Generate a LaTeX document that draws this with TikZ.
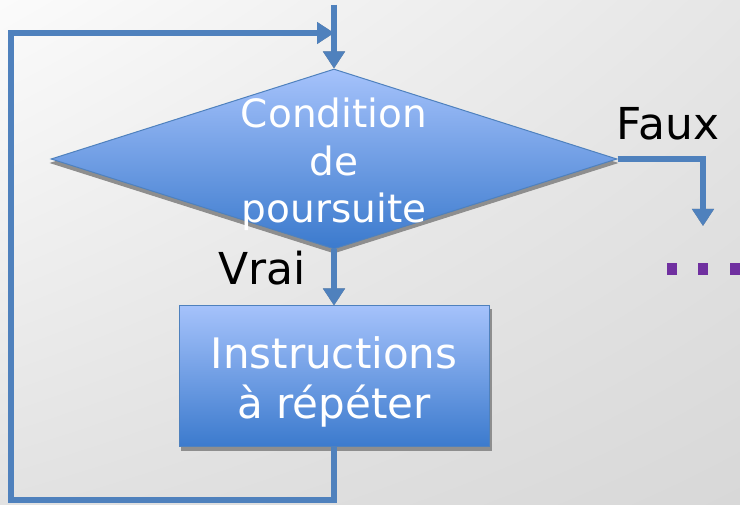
\documentclass[tikz,border=0pt]{standalone}
\usepackage{fontspec}
\setmainfont{DejaVu Sans}
\usetikzlibrary{arrows.meta,shapes.geometric,shadings}
\definecolor{lineblue}{HTML}{4F81BD}
\definecolor{topblue}{HTML}{A5C2FB}
\definecolor{botblue}{HTML}{3B7ACD}
\definecolor{shadowgray}{HTML}{8E8E8E}
\definecolor{dotpurple}{HTML}{7030A0}
\definecolor{bgA}{HTML}{FBFBFB}
\definecolor{bgB}{HTML}{E6E6E6}
\definecolor{bgC}{HTML}{E2E2E2}
\definecolor{bgD}{HTML}{D8D8D8}
\begin{document}
\begin{tikzpicture}[x=1pt,y=-1pt,
  conn/.style={line width=6pt},
  arr/.style={conn,-{Triangle[width=21pt,length=17pt]}},
  shapebox/.style={draw=lineblue, line width=1pt, top color=topblue, bottom color=botblue, inner sep=0pt},
  shadowshape/.style={fill=shadowgray, draw=shadowgray, line width=1pt, inner sep=0pt},
  intext/.style={text=white, inner sep=0pt, align=center},
  lbl/.style={text=black, inner sep=0pt, font=\fontsize{44}{52}\selectfont}]
\useasboundingbox (0,0) rectangle (740,505);
\shade[upper left=bgA, upper right=bgB, lower left=bgC, lower right=bgD] (0,0) rectangle (740,505);

% shadows of shapes
\node[shadowshape, diamond, minimum width=566pt, minimum height=180pt] at (334,163) {};
\node[shadowshape, rectangle, minimum width=310pt, minimum height=141pt] at (336,380) {};

% shapes
\node[shapebox, diamond, minimum width=566pt, minimum height=180pt] (dia) at (334,159) {};
\node[shapebox, rectangle, minimum width=310pt, minimum height=141pt] (box) at (334,376.5) {};

% named free ends
\coordinate (top) at (334,5);
\coordinate (lb) at (11,500);
\coordinate (join) at (334,33);
\coordinate (fauxend) at (703,226);

% connector shadows
\begin{scope}[shift={(2,3)}, draw=shadowgray, color=shadowgray]
  \draw[arr] (top) -- (dia.north);
  \draw[arr] (dia.south) -- (box.north);
  \draw[arr] (dia.east) -| (fauxend);
  \draw[arr] (box.south) |- (lb) |- (join);
\end{scope}
% connectors
\begin{scope}[draw=lineblue, color=lineblue]
  \draw[arr] (top) -- (dia.north);
  \draw[arr] (dia.south) -- (box.north);
  \draw[arr] (dia.east) -| (fauxend);
  \draw[arr] (box.south) |- (lb) |- (join);
\end{scope}

% texts
\node[intext, font=\fontsize{39}{47.5}\selectfont] (dtext) at (334,164.5) {Condition\\de\\poursuite};
\node[intext, font=\fontsize{42}{50}\selectfont] (btext) at (334,382) {Instructions\\à répéter};
\node[lbl, anchor=base] (faux) at (668,140) {Faux};
\node[lbl, anchor=base] (vrai) at (262,285) {Vrai};

% purple dots
\foreach \i/\xx in {1/667,2/698,3/730}
  \fill[dotpurple] (\xx,263) rectangle ++(10,12);
\end{tikzpicture}
\end{document}
